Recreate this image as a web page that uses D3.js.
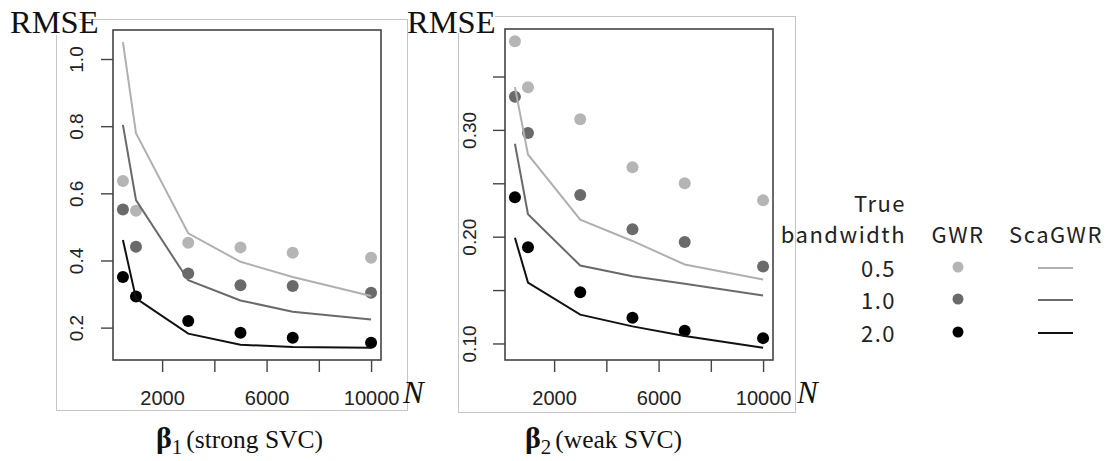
<!DOCTYPE html>
<html>
<head>
<meta charset="utf-8">
<script src="https://cdn.jsdelivr.net/npm/d3@7"></script>
<style>
  body { margin: 0; background: #fff; }
  svg { display: block; }
</style>
</head>
<body>
<svg id="chart" width="1112" height="461"></svg>
<script>

// sample sizes
var sizes = [500, 1000, 3000, 5000, 7000, 10000];
var bandwidths = ["0.5", "1.0", "2.0"];

// beta1 (strong SVC)
var gwr_b1 = [
  [0.637, 0.548, 0.453, 0.439, 0.423, 0.408],
  [0.552, 0.441, 0.361, 0.326, 0.324, 0.304],
  [0.351, 0.293, 0.220, 0.185, 0.170, 0.155]
];
var sca_b1 = [
  [1.050, 0.779, 0.481, 0.396, 0.351, 0.294],
  [0.804, 0.580, 0.341, 0.281, 0.247, 0.224],
  [0.461, 0.287, 0.182, 0.149, 0.142, 0.140]
];

// beta2 (weak SVC)
var gwr_b2 = [
  [0.383, 0.340, 0.310, 0.265, 0.250, 0.234],
  [0.331, 0.297, 0.239, 0.207, 0.195, 0.172],
  [0.237, 0.190, 0.148, 0.124, 0.112, 0.105]
];
var sca_b2 = [
  [0.340, 0.277, 0.216, 0.196, 0.174, 0.160],
  [0.287, 0.221, 0.173, 0.163, 0.156, 0.145],
  [0.199, 0.157, 0.127, 0.116, 0.107, 0.096]
];

var xTicks = [2000, 4000, 6000, 8000, 10000];
var xTickLabels = [2000, 6000, 10000];
var yTicks_b1 = [0.2, 0.4, 0.6, 0.8, 1.0];
var yTickLabels_b1 = [0.2, 0.4, 0.6, 0.8, 1.0];
var yTicks_b2 = [0.10, 0.15, 0.20, 0.25, 0.30, 0.35];
var yTickLabels_b2 = [0.10, 0.20, 0.30];

var pointColors = ["#b5b5b5", "#6a6a6a", "#000000"];
var lineColors = ["#b0b0b0", "#6a6a6a", "#111111"];

var svg = d3.select("#chart");

// R style 4% range extension
function rRange(vals) {
    var e = d3.extent(vals);
    var pad = (e[1] - e[0]) * 0.04;
    return [e[0] - pad, e[1] + pad];
}

function drawPanel(cfg) {
    var g = svg.append("g");

    // picture frame
    g.append("rect")
        .attr("x", cfg.frame[0] + 0.5)
        .attr("y", cfg.frame[1] + 0.5)
        .attr("width", cfg.frame[2] - cfg.frame[0])
        .attr("height", cfg.frame[3] - cfg.frame[1])
        .attr("fill", "none")
        .attr("stroke", "#c4c4c4")
        .attr("stroke-width", 1);

    var b = cfg.box;
    var x = d3.scaleLinear()
        .domain(rRange(sizes))
        .range([b[0], b[2]]);
    var allY = d3.merge(cfg.gwr.concat(cfg.sca));
    var y = d3.scaleLinear()
        .domain(rRange(allY))
        .range([b[3], b[1]]);

    // x axis
    var xa = g.append("g")
        .attr("transform", "translate(0," + b[3] + ")")
        .call(d3.axisBottom(x)
            .tickValues(xTicks)
            .tickSize(12)
            .tickFormat(function (d) {
                return xTickLabels.indexOf(d) >= 0 ? d : "";
            }));
    xa.select(".domain").remove();
    xa.selectAll(".tick line").attr("stroke", "#444").attr("stroke-width", 1.4);
    xa.selectAll(".tick text")
        .attr("y", 45)
        .attr("dy", 0)
        .attr("fill", "#222")
        .style("font-family", "'Liberation Sans', Arial, sans-serif")
        .style("font-size", "20px");

    // y axis
    var ya = g.append("g")
        .attr("transform", "translate(" + b[0] + ",0)")
        .call(d3.axisLeft(y)
            .tickValues(cfg.yTicks)
            .tickSize(12)
            .tickFormat(function (d) {
                var lab = cfg.yLabels.filter(function (v) { return Math.abs(v - d) < 1e-9; });
                return lab.length ? d3.format(cfg.yFmt)(d) : "";
            }));
    ya.select(".domain").remove();
    ya.selectAll(".tick line").attr("stroke", "#444").attr("stroke-width", 1.4);
    ya.selectAll(".tick text")
        .attr("transform", "rotate(-90)")
        .attr("text-anchor", "middle")
        .attr("x", 0)
        .attr("y", -cfg.labOff)
        .attr("dy", 0)
        .attr("fill", "#222")
        .style("font-family", "'Liberation Sans', Arial, sans-serif")
        .style("font-size", "19px");

    // points
    cfg.gwr.forEach(function (ser, i) {
        g.selectAll(null)
            .data(ser)
            .enter().append("circle")
            .attr("cx", function (d, j) { return x(sizes[j]); })
            .attr("cy", function (d) { return y(d); })
            .attr("r", 6)
            .attr("fill", pointColors[i]);
    });

    // ScaGWR lines
    var line = d3.line()
        .x(function (d, j) { return x(sizes[j]); })
        .y(function (d) { return y(d); });
    cfg.sca.forEach(function (ser, i) {
        g.append("path")
            .datum(ser)
            .attr("d", line)
            .attr("fill", "none")
            .attr("stroke", lineColors[i])
            .attr("stroke-width", 2);
    });

    // plot box
    g.append("rect")
        .attr("x", b[0])
        .attr("y", b[1])
        .attr("width", b[2] - b[0])
        .attr("height", b[3] - b[1])
        .attr("fill", "none")
        .attr("stroke", "#444")
        .attr("stroke-width", 1.6);

    // RMSE label over a white patch
    g.append("rect")
        .attr("x", cfg.patch[0])
        .attr("y", 0)
        .attr("width", cfg.patch[1])
        .attr("height", cfg.patch[2])
        .attr("fill", "#fff");
    g.append("text")
        .attr("x", cfg.rmseX)
        .attr("y", 33)
        .style("font-family", "'Liberation Serif', 'Times New Roman', serif")
        .style("font-size", "32.5px")
        .attr("fill", "#111")
        .text("RMSE");

    // N
    g.append("text")
        .attr("x", cfg.nX)
        .attr("y", 403)
        .style("font-family", "'Liberation Serif', 'Times New Roman', serif")
        .style("font-style", "italic")
        .style("font-size", "31px")
        .attr("fill", "#111")
        .text("N");

    // title under the panel
    var t = g.append("text")
        .attr("x", cfg.titleX)
        .attr("y", 448)
        .style("font-family", "'Liberation Serif', 'Times New Roman', serif")
        .attr("fill", "#111");
    t.append("tspan")
        .style("font-weight", "bold")
        .style("font-size", "30px")
        .text("β");
    t.append("tspan")
        .style("font-size", "21px")
        .attr("dy", 6)
        .text(cfg.sub);
    t.append("tspan")
        .style("font-size", "25.5px")
        .attr("dy", -6)
        .attr("dx", 4)
        .text(cfg.title);
}

drawPanel({
    frame: [56, 19, 407, 410],
    box: [113, 30, 381, 360],
    gwr: gwr_b1, sca: sca_b1,
    yTicks: yTicks_b1, yLabels: yTickLabels_b1, yFmt: ".1f",
    labOff: 30,
    patch: [0, 78, 35],
    rmseX: 10,
    nX: 403,
    titleX: 156, sub: "1", title: "(strong SVC)"
});

drawPanel({
    frame: [458, 16, 795, 412],
    box: [505, 29, 773, 360],
    gwr: gwr_b2, sca: sca_b2,
    yTicks: yTicks_b2, yLabels: yTickLabels_b2, yFmt: ".2f",
    labOff: 29,
    patch: [409, 86, 33],
    rmseX: 407,
    nX: 797,
    titleX: 525, sub: "2", title: "(weak SVC)"
});

// legend
var leg = svg.append("g")
    .style("font-family", "'Noto Sans CJK JP', 'Noto Sans', sans-serif")
    .style("font-size", "22px")
    .style("letter-spacing", "1.5px")
    .attr("fill", "#222");

leg.append("text").attr("x", 906).attr("y", 212).attr("text-anchor", "end").text("True");
leg.append("text").attr("x", 906).attr("y", 243).attr("text-anchor", "end").text("bandwidth");
leg.append("text").attr("x", 958).attr("y", 243).attr("text-anchor", "middle").text("GWR");
leg.append("text").attr("x", 1056).attr("y", 243).attr("text-anchor", "middle").text("ScaGWR");

var legRowY = [267, 299, 332];
bandwidths.forEach(function (bw, i) {
    leg.append("text")
        .attr("x", 896)
        .attr("y", legRowY[i] + 10)
        .attr("text-anchor", "end")
        .text(bw);
    leg.append("circle")
        .attr("cx", 958)
        .attr("cy", legRowY[i])
        .attr("r", 5.5)
        .attr("fill", pointColors[i]);
    leg.append("line")
        .attr("x1", 1038)
        .attr("x2", 1073)
        .attr("y1", legRowY[i] + 1)
        .attr("y2", legRowY[i] + 1)
        .attr("stroke", lineColors[i])
        .attr("stroke-width", 2);
});

</script>
</body>
</html>
